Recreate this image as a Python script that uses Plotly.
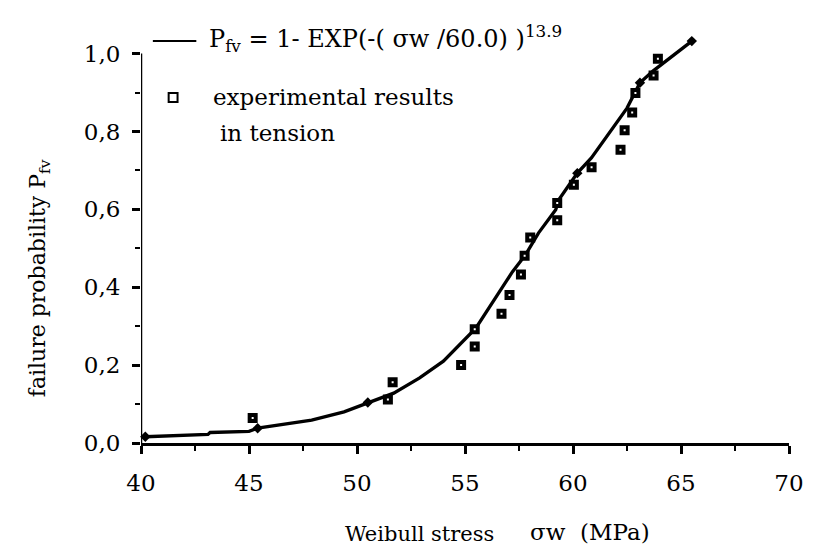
import plotly.graph_objects as go

# ---- data ----
curve_sigma = [40.2, 41.5, 43.1, 43.2, 45.0, 45.4, 46.4, 47.9, 49.4, 50.5, 51.7, 52.9,
               54.0, 55.5, 55.7, 56.55, 57.2, 57.8, 58.4, 59.2, 59.35, 60.2, 60.85,
               62.5, 63.1, 63.7, 64.3, 65.5]
curve_p = [0.016, 0.018, 0.022, 0.027, 0.030, 0.038, 0.046, 0.059, 0.080, 0.104, 0.128, 0.167,
           0.210, 0.295, 0.312, 0.385, 0.440, 0.483, 0.539, 0.599, 0.625, 0.693, 0.732,
           0.860, 0.925, 0.955, 0.980, 1.032]

node_sigma = [40.2, 45.4, 50.5, 60.2, 63.1, 65.5]
node_p = [0.016, 0.038, 0.104, 0.693, 0.925, 1.032]

exp_sigma = [45.17, 51.43, 51.65, 54.82, 55.45, 55.45, 56.69, 57.06, 57.59, 57.76, 58.02,
             59.27, 59.27, 60.04, 60.86, 62.20, 62.39, 62.74, 62.89, 63.73, 63.93]
exp_p = [0.064, 0.112, 0.156, 0.200, 0.248, 0.292, 0.332, 0.380, 0.433, 0.481, 0.528,
         0.572, 0.616, 0.663, 0.708, 0.753, 0.803, 0.849, 0.899, 0.944, 0.987]

x_range = [40, 70]
y_range = [0, 1.04]

FONT = "DejaVu Serif"
OFF = 8                      # page body margin
W, H = 816 - OFF, 548 - OFF
ML, MT = 141 - OFF, 38 - OFF
MR = W - (797 - OFF)
MB = H - (443 - OFF)
PW, PH = W - ML - MR, H - MT - MB


def px(x):
    return (x - OFF - ML) / PW


def py(y):
    return (H - MB - (y - OFF)) / PH


fig = go.Figure()

fig.add_trace(go.Scatter(
    x=curve_sigma, y=curve_p, mode="lines",
    line=dict(color="black", width=3.3), showlegend=False, hoverinfo="skip"))

fig.add_trace(go.Scatter(
    x=node_sigma, y=node_p, mode="markers",
    marker=dict(symbol="diamond", size=8, color="black"),
    showlegend=False, cliponaxis=False))

fig.add_trace(go.Scatter(
    x=exp_sigma, y=exp_p, mode="markers",
    marker=dict(symbol="square", size=6, color="white",
                line=dict(color="black", width=4)),
    showlegend=False, cliponaxis=False))

# y axis line stops at 1.0
fig.add_shape(type="line", xref="x", yref="y", x0=40, x1=40, y0=0, y1=1,
              line=dict(color="black", width=2.5))

# legend decorations
fig.add_shape(type="line", xref="paper", yref="paper",
              x0=px(153), x1=px(197), y0=py(41), y1=py(41),
              line=dict(color="black", width=2))
fig.add_shape(type="rect", xref="paper", yref="paper",
              x0=px(169), x1=px(178), y0=py(102), y1=py(93),
              line=dict(color="black", width=2), fillcolor="white")

ann = []
ann.append(dict(text="P<sub>fv</sub> = 1- EXP(-( σw /60.0) )<sup>13.9</sup>",
                x=px(208), y=py(39), xanchor="left", yanchor="middle",
                font=dict(family=FONT, size=24, color="black")))
ann.append(dict(text="experimental results",
                x=px(212), y=py(97), xanchor="left", yanchor="middle",
                font=dict(family=FONT, size=23, color="black")))
ann.append(dict(text="in tension",
                x=px(219), y=py(133), xanchor="left", yanchor="middle",
                font=dict(family=FONT, size=23, color="black")))
ann.append(dict(text="failure probability P<sub>fv</sub>", textangle=-90,
                x=px(38), y=py(278), xanchor="center", yanchor="middle",
                font=dict(family=FONT, size=22, color="black")))
ann.append(dict(text="Weibull stress",
                x=px(345), y=py(534), xanchor="left", yanchor="middle",
                font=dict(family=FONT, size=21, color="black")))
ann.append(dict(text="σw\u00a0\u00a0(MPa)",
                x=px(533), y=py(532), xanchor="left", yanchor="middle",
                font=dict(family=FONT, size=23, color="black")))
ann.append(dict(text="(Vσ = 3,216 mm<sup>3</sup>)",
                x=px(10), y=py(9), xanchor="left", yanchor="bottom",
                font=dict(family=FONT, size=22, color="black")))
for a in ann:
    a.update(xref="paper", yref="paper", showarrow=False)

fig.update_layout(
    width=W, height=H,
    margin=dict(l=ML, r=MR, t=MT, b=MB, pad=0),
    paper_bgcolor="white", plot_bgcolor="white",
    separators=", ",
    font=dict(family=FONT, size=23, color="black"),
    annotations=ann,
    xaxis=dict(range=x_range, dtick=5, tick0=40, showgrid=False, zeroline=False,
               showline=True, linecolor="black", linewidth=2.5,
               ticks="outside", ticklen=8, tickwidth=2.5, tickcolor="black",
               minor=dict(dtick=2.5, ticks="outside", ticklen=5, tickwidth=2, tickcolor="black"),
               ticklabelstandoff=10,
               tickfont=dict(family=FONT, size=23, color="black")),
    yaxis=dict(range=y_range, dtick=0.2, tick0=0, tickformat=".1f",
               showgrid=False, zeroline=False, showline=False,
               ticks="outside", ticklen=8, tickwidth=2.5, tickcolor="black",
               minor=dict(dtick=0.1, ticks="outside", ticklen=5, tickwidth=2, tickcolor="black"),
               ticklabelstandoff=7,
               tickfont=dict(family=FONT, size=23, color="black")),
)

fig.write_html("out.html")
